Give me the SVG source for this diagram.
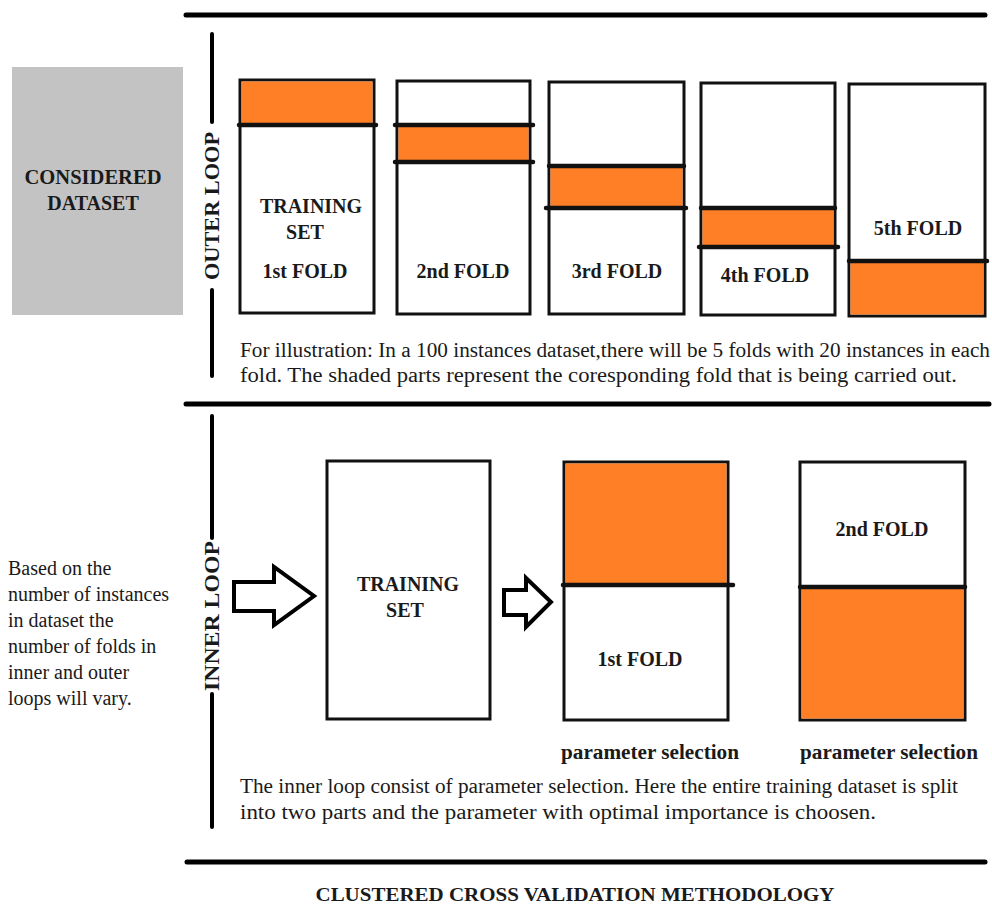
<svg xmlns="http://www.w3.org/2000/svg" width="992" height="906" viewBox="0 0 992 906">
<style>
.t{font-family:"Liberation Serif","DejaVu Serif",serif;fill:#1a1a1a}
.b{font-weight:bold}
.r{font-size:20px}
.box{fill:#fff;stroke:#111;stroke-width:3}
.or{fill:#ff7f27;stroke:none}
.sep{stroke:#111;stroke-width:4.5;stroke-linecap:round}
.rule{stroke:#000;stroke-width:5;stroke-linecap:round}
.vl{stroke:#000;stroke-width:4;stroke-linecap:round}
.arr{fill:#fff;stroke:#000;stroke-width:4;stroke-linejoin:miter}
</style>
<rect width="992" height="906" fill="#fff"/>
<g id="rules">
<line class="rule" x1="186" y1="15" x2="985" y2="15"/>
<line class="rule" x1="186" y1="404" x2="989" y2="404"/>
<line class="rule" x1="187" y1="862" x2="985" y2="862"/>
<line class="vl" x1="212" y1="34" x2="212" y2="122"/>
<line class="vl" x1="212" y1="290" x2="212" y2="376"/>
<line class="vl" x1="212" y1="416" x2="212" y2="538"/>
<line class="vl" x1="212" y1="694" x2="212" y2="827"/>
</g>
<g id="outer-loop-label"><text class="t b" font-size="20" font-family="Liberation Serif, DejaVu Serif, serif" transform="translate(219,206) rotate(-90)" text-anchor="middle" textLength="148" lengthAdjust="spacingAndGlyphs">OUTER LOOP</text></g>
<g id="inner-loop-label"><text class="t b" font-size="20" font-family="Liberation Serif, DejaVu Serif, serif" transform="translate(219,616) rotate(-90)" text-anchor="middle" textLength="150" lengthAdjust="spacingAndGlyphs">INNER LOOP</text></g>
<g id="dataset">
<rect x="12" y="67" width="171" height="248" fill="#c3c3c3"/>
<text class="t b" font-size="20" x="93" y="184" text-anchor="middle" textLength="137" lengthAdjust="spacingAndGlyphs">CONSIDERED</text>
<text class="t b" font-size="20" x="93" y="210" text-anchor="middle">DATASET</text>
</g>
<g id="fold1">
<rect class="box" x="240" y="80" width="134" height="233"/>
<rect class="or" x="241.5" y="81.5" width="131" height="43.5"/>
<line class="sep" x1="239" y1="125" x2="376" y2="125"/>
<text class="t b r" x="311" y="213" text-anchor="middle">TRAINING</text>
<text class="t b r" x="305" y="239" text-anchor="middle">SET</text>
<text class="t b r" x="305" y="278" text-anchor="middle">1st FOLD</text>
</g>
<g id="fold2">
<rect class="box" x="397" y="81" width="133" height="233"/>
<rect class="or" x="398.5" y="125" width="130" height="37"/>
<line class="sep" x1="395" y1="125" x2="533" y2="125"/>
<line class="sep" x1="395" y1="162" x2="533" y2="162"/>
<text class="t b r" x="463" y="278" text-anchor="middle">2nd FOLD</text>
</g>
<g id="fold3">
<rect class="box" x="549" y="82" width="135" height="232"/>
<rect class="or" x="550.5" y="166" width="132" height="42"/>
<line class="sep" x1="549" y1="166" x2="684" y2="166"/>
<line class="sep" x1="546" y1="208" x2="686" y2="208"/>
<text class="t b r" x="617" y="278" text-anchor="middle">3rd FOLD</text>
</g>
<g id="fold4">
<rect class="box" x="701" y="83" width="134" height="232"/>
<rect class="or" x="702.5" y="208" width="131" height="39"/>
<line class="sep" x1="701" y1="208" x2="835" y2="208"/>
<line class="sep" x1="699" y1="247" x2="838" y2="247"/>
<text class="t b r" x="765" y="282" text-anchor="middle">4th FOLD</text>
</g>
<g id="fold5">
<rect class="box" x="849" y="84" width="136" height="232"/>
<rect class="or" x="850.5" y="261" width="133" height="53.5"/>
<line class="sep" x1="849" y1="261" x2="987" y2="261"/>
<text class="t b r" x="918" y="235" text-anchor="middle">5th FOLD</text>
</g>
<g id="outer-note">
<text class="t r" x="240" y="357" textLength="750" lengthAdjust="spacingAndGlyphs">For illustration: In a 100 instances dataset,there will be 5 folds with 20 instances in each</text>
<text class="t r" x="240" y="382" textLength="717" lengthAdjust="spacingAndGlyphs">fold. The shaded parts represent the coresponding fold that is being carried out.</text>
</g>
<g id="side-note">
<text class="t r" x="8" y="575">Based on the</text>
<text class="t r" x="8" y="601">number of instances</text>
<text class="t r" x="8" y="627">in dataset the</text>
<text class="t r" x="8" y="653">number of folds in</text>
<text class="t r" x="8" y="679">inner and outer</text>
<text class="t r" x="8" y="705">loops will vary.</text>
</g>
<g id="training-set">
<rect class="box" x="327" y="461" width="163" height="258"/>
<text class="t b r" x="408" y="591" text-anchor="middle">TRAINING</text>
<text class="t b r" x="405" y="617" text-anchor="middle">SET</text>
</g>
<g id="inner-fold1">
<rect class="box" x="564" y="462" width="164" height="258"/>
<rect class="or" x="565.5" y="463.5" width="161" height="121.5"/>
<line class="sep" x1="563" y1="585" x2="733" y2="585"/>
<text class="t b r" x="640" y="666" text-anchor="middle">1st FOLD</text>
<text class="t b r" x="650" y="759" text-anchor="middle" textLength="178" lengthAdjust="spacingAndGlyphs">parameter selection</text>
</g>
<g id="inner-fold2">
<rect class="box" x="800" y="462" width="165" height="258"/>
<rect class="or" x="801.5" y="587" width="162" height="131.5"/>
<line class="sep" x1="800" y1="587" x2="965" y2="587"/>
<text class="t b r" x="882" y="536" text-anchor="middle">2nd FOLD</text>
<text class="t b r" x="889" y="759" text-anchor="middle" textLength="178" lengthAdjust="spacingAndGlyphs">parameter selection</text>
</g>
<g id="inner-note">
<text class="t r" x="240" y="793" textLength="718" lengthAdjust="spacingAndGlyphs">The inner loop consist of parameter selection. Here the entire training dataset is split</text>
<text class="t r" x="240" y="819" textLength="636" lengthAdjust="spacingAndGlyphs">into two parts and the parameter with optimal importance is choosen.</text>
</g>
<g id="connectors">
<path class="arr" d="M234,582 L274,582 L274,567 L314,596 L274,625 L274,611 L234,611 Z"/>
<path class="arr" d="M504,590 L526,590 L526,578 L551,602 L526,627 L526,615 L504,615 Z"/>
</g>
<g id="title">
<text class="t b" font-size="19" x="575" y="901" text-anchor="middle" textLength="519" lengthAdjust="spacingAndGlyphs">CLUSTERED CROSS VALIDATION METHODOLOGY</text>
</g>
</svg>
